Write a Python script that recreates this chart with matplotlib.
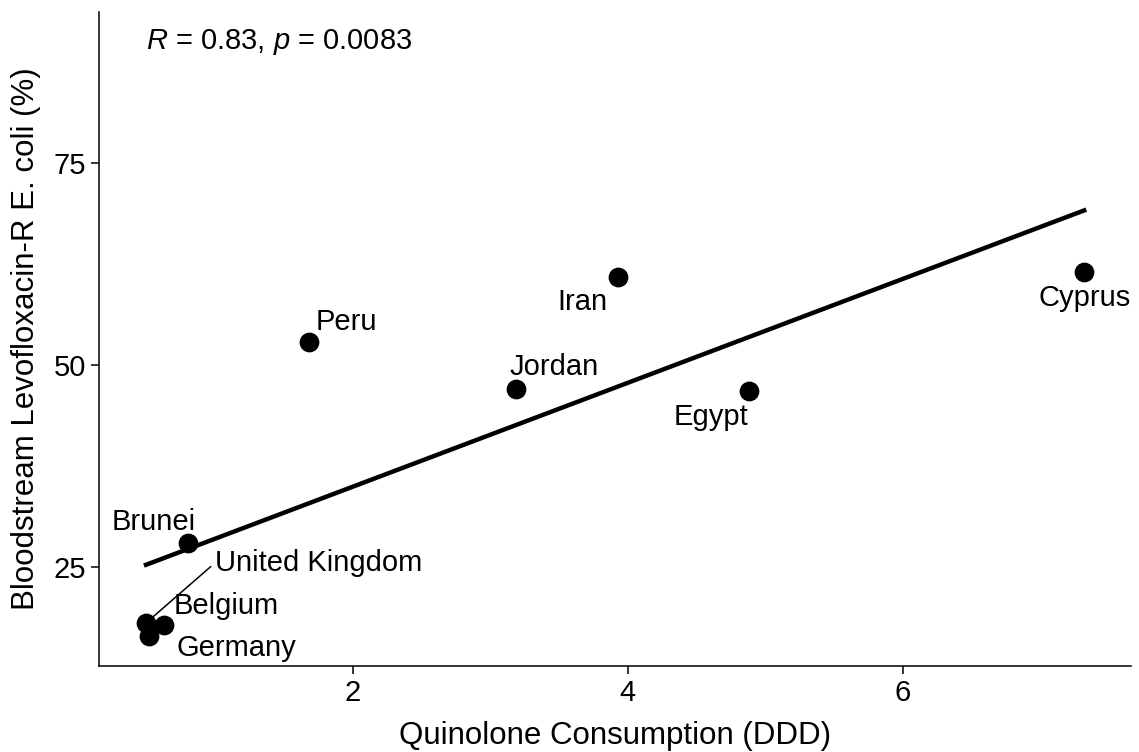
import numpy as np
import matplotlib
matplotlib.use('Agg')
import matplotlib.pyplot as plt

# ── Données ────────────────────────────────────────────────────────────
pays = ['Brunei', 'United Kingdom', 'Belgium', 'Germany', 'Peru',
        'Jordan', 'Iran', 'Egypt', 'Cyprus']
ddd = [0.80, 0.495, 0.625, 0.516, 1.68, 3.19, 3.93, 4.88, 7.32]
resist = [27.97, 18.07, 17.8, 16.46, 52.85, 47.0, 60.9, 46.8, 61.5]
stat_label = r'$R$ = 0.83, $p$ = 0.0083'

# décalages des étiquettes (points), façon ggrepel
decalages = {
    'Brunei': (-25, 15), 'United Kingdom': (124, 43), 'Belgium': (45, 14),
    'Germany': (63, -9), 'Peru': (27, 14), 'Jordan': (27, 16),
    'Iran': (-26, -18), 'Egypt': (-27, -19), 'Cyprus': (0, -19),
}

plt.rcParams['font.family'] = 'Liberation Sans'
plt.rcParams['mathtext.fontset'] = 'custom'
plt.rcParams['mathtext.rm'] = 'Liberation Sans'
plt.rcParams['mathtext.it'] = 'Liberation Sans:italic'

fig = plt.figure(figsize=(11.39, 7.52), dpi=100)
ax = fig.add_axes([0.0869, 0.1144, 0.906, 0.870])

x = np.array(ddd)
y = np.array(resist)

# droite de régression
a, b = np.polyfit(x, y, 1)
xx = np.array([x.min(), x.max()])
ax.plot(xx, a * xx + b, color='black', lw=3.2, zorder=2)

ax.scatter(x, y, s=175, color='black', zorder=3)

for nom, xi, yi in zip(pays, x, y):
    dx, dy = decalages[nom]
    if nom == 'United Kingdom':
        ax.annotate(nom, (xi, yi), xytext=(dx, dy), textcoords='offset points',
                    ha='center', va='center', fontsize=21,
                    arrowprops=dict(arrowstyle='-', color='black', lw=1.1,
                                    relpos=(0, 0.5), shrinkA=1, shrinkB=6))
    else:
        ax.annotate(nom, (xi, yi), xytext=(dx, dy), textcoords='offset points',
                    ha='center', va='center', fontsize=21)

ax.text(x.min(), 90, stat_label, ha='left', va='center', fontsize=21)

ax.set_xlim(0.153, 7.66)
ax.set_ylim(12.75, 93.7)
ax.set_xticks([2, 4, 6])
ax.set_yticks([25, 50, 75])
ax.tick_params(axis='both', labelsize=21, length=6, width=1.1, color='black',
               labelcolor='black')

for s in ['top', 'right']:
    ax.spines[s].set_visible(False)
for s in ['left', 'bottom']:
    ax.spines[s].set_linewidth(1.1)

ax.set_xlabel('Quinolone Consumption (DDD)', fontsize=22.5, labelpad=10)
ax.set_ylabel('Bloodstream Levofloxacin-R E. coli (%)', fontsize=22.5, labelpad=9)

fig.savefig('out.png', dpi=100)
plt.close()
